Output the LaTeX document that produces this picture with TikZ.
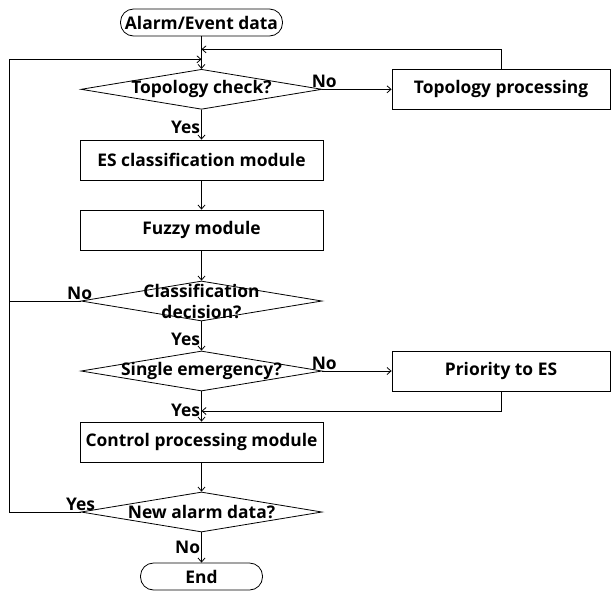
\documentclass[tikz,border=0pt]{standalone}
\usepackage{fontspec}
\setmainfont{Open Sans}
\usetikzlibrary{shapes.geometric,arrows.meta}

\begin{document}
\begin{tikzpicture}[x=1pt,y=-1pt,line width=0.8pt,>={Straight Barb[length=4pt,width=7pt]}]
\useasboundingbox (0,0) rectangle (611,590);
\tikzstyle{every node}=[font=\bfseries\fontsize{17.4}{21}\selectfont];
\tikzstyle{box}=[draw,rectangle,minimum width=243pt,minimum height=40pt,inner sep=0pt];
\tikzstyle{sidebox}=[draw,rectangle,minimum width=218pt,minimum height=40pt,inner sep=0pt];
\tikzstyle{term}=[draw,rectangle,rounded corners=13pt,minimum height=27pt,inner sep=0pt];
\tikzstyle{decision}=[draw,diamond,minimum width=241pt,minimum height=40pt,inner sep=0pt];
\tikzstyle{lbl}=[inner sep=1pt];

\draw (201.5,22.5) node[term,minimum width=162pt] (start) {Alarm/Event data};
\draw (201.5,89.3) node[decision] (d1) {} node (t1) {Topology check?};
\draw (501,89.3)   node[sidebox] (tp) {Topology processing};
\draw (201.5,160)  node[box] (es) {ES classification module};
\draw (201.5,230)  node[box] (fz) {Fuzzy module};
\draw (201.5,301)  node[decision] (d2) {} node[align=center] (t2) {Classification\\decision?};
\draw (201.5,371)  node[decision] (d3) {} node (t3) {Single emergency?};
\draw (501,371)    node[sidebox] (pr) {Priority to ES};
\draw (201.5,442)  node[box] (ctrl) {Control processing module};
\draw (201.5,512)  node[decision] (d4) {} node (t4) {New alarm data?};
\draw (201.5,576.5) node[term,minimum width=122pt] (end) {End};

% loop points
\coordinate (back1) at (201.5,49.3);
\coordinate (back2) at (201.5,59.3);
\coordinate (back3) at (201.5,411);
\coordinate (loopx) at (9.3,59.3);

\draw (start) edge [->] (d1);
\draw (d1) edge [->] node[lbl,left,pos=0.6] (y1) {Yes} (es);
\draw (d1.east) edge [->] (tp.west);
\draw (d1.east) node[lbl,anchor=south west,xshift=-12pt] (n1) {No};
\draw[->] (tp.north) |- (back1);
\draw (es) edge [->] (fz);
\draw (fz) edge [->] (d2);
\draw (d2.west) -- (d2.west -| loopx);
\draw (d2.west) node[lbl,anchor=south,xshift=-1pt] (n2) {No};
\draw (d2) edge [->] node[lbl,left,pos=0.62] (y2) {Yes} (d3);
\draw (d3.east) edge [->] (pr.west);
\draw (d3.east) node[lbl,anchor=south west,xshift=-12pt] (n3) {No};
\draw[->] (pr.south) |- (back3);
\draw (d3) edge [->] node[lbl,left,pos=0.62] (y3) {Yes} (ctrl);
\draw (ctrl) edge [->] (d4);
\draw[->] (d4.west) -| (loopx) -- (back2);
\draw (d4.west) node[lbl,anchor=south] (y4) {Yes};
\draw (d4) edge [->] node[lbl,left,pos=0.5] (n4) {No} (end);
\end{tikzpicture}
\end{document}
